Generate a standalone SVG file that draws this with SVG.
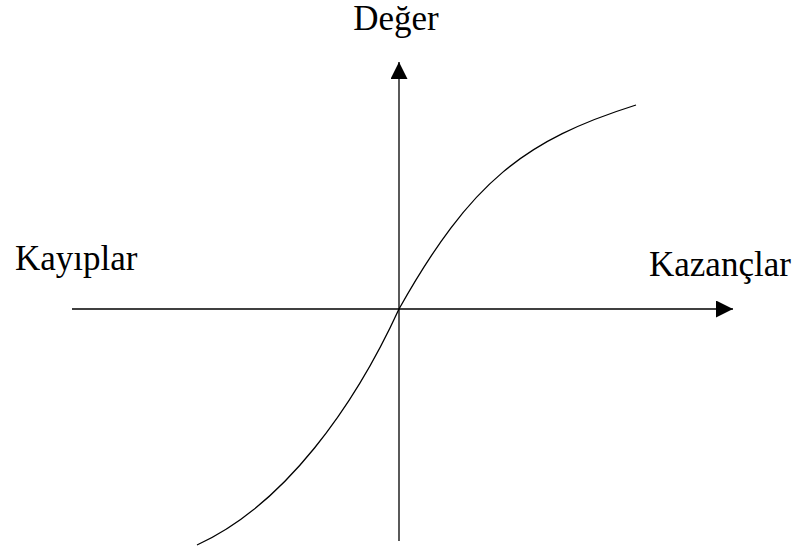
<svg xmlns="http://www.w3.org/2000/svg" width="798" height="546" viewBox="0 0 798 546">
<style>
.lbl{font-family:"Liberation Serif","Times New Roman",serif;font-size:35px;fill:#000}
.ax{stroke:#000;stroke-width:1.3;fill:none}
.cv{stroke:#000;stroke-width:1.3;fill:none}
</style>
<defs>
<marker id="ah" viewBox="0 0 10 10" refX="10" refY="5" markerWidth="18" markerHeight="17" markerUnits="userSpaceOnUse" orient="auto">
<path d="M0,0 L10,5 L0,10 Z" fill="#000"/>
</marker>
</defs>
<rect width="798" height="546" fill="#fff"/>
<g id="connectors">
<line id="yaxis" class="ax" x1="399" y1="541" x2="399" y2="62" marker-end="url(#ah)"/>
<line id="xaxis" class="ax" x1="72" y1="309" x2="733" y2="309" marker-end="url(#ah)"/>
<path id="curve" class="cv" d="M197,545 C285,505 355,405 399,309 C471,181 525,140 636,105"/>
</g>
<g id="label-deger"><text class="lbl" x="396" y="30" text-anchor="middle">Değer</text></g>
<g id="label-kayiplar"><text class="lbl" x="15" y="270">Kayıplar</text></g>
<g id="label-kazanclar"><text class="lbl" x="649" y="276">Kazançlar</text></g>
</svg>
